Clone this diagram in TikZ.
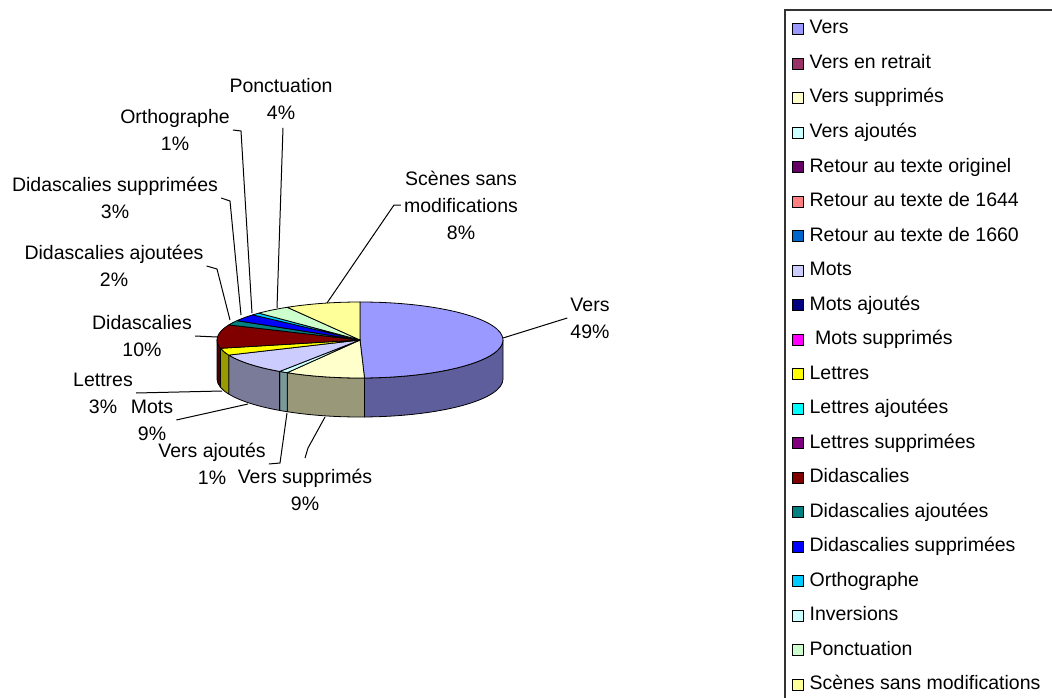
\documentclass[tikz,border=0pt]{standalone}
\usepackage{fontspec}
\setmainfont{Liberation Sans}
\usepackage{tikz}

\definecolor{cVers}{HTML}{9999FF}
\definecolor{cRetrait}{HTML}{993366}
\definecolor{cVsupp}{HTML}{FFFFCC}
\definecolor{cVaj}{HTML}{CCFFFF}
\definecolor{cOrig}{HTML}{660066}
\definecolor{cR1644}{HTML}{FF8080}
\definecolor{cR1660}{HTML}{0066CC}
\definecolor{cMots}{HTML}{CCCCFF}
\definecolor{cMaj}{HTML}{000080}
\definecolor{cMsupp}{HTML}{FF00FF}
\definecolor{cLettres}{HTML}{FFFF00}
\definecolor{cLaj}{HTML}{00FFFF}
\definecolor{cLsupp}{HTML}{800080}
\definecolor{cDid}{HTML}{800000}
\definecolor{cDidAj}{HTML}{008080}
\definecolor{cDidSupp}{HTML}{0000FF}
\definecolor{cOrtho}{HTML}{00CCFF}
\definecolor{cInv}{HTML}{CCFFFF}
\definecolor{cPonct}{HTML}{CCFFCC}
\definecolor{cScenes}{HTML}{FFFF99}
% darker sides of the pie
\definecolor{sVers}{HTML}{5E5E9C}
\definecolor{sVsupp}{HTML}{99997A}
\definecolor{sVaj}{HTML}{7A9999}
\definecolor{sMots}{HTML}{7A7A99}
\definecolor{sLettres}{HTML}{999900}
\definecolor{sDid}{HTML}{4D0000}

\begin{document}
\begin{tikzpicture}[x=1pt, y=1pt,
	slice/.style={draw=black, line width=0.8pt, line join=round},
	lbl/.style={align=center, inner sep=3pt, font=\fontsize{19.5}{27}\selectfont},
	lead/.style={draw=black, line width=1pt},
	key/.style={draw=black, line width=0.8pt, minimum size=11pt, inner sep=0pt},
	keytext/.style={inner sep=6pt, text height=14pt, text depth=4pt, font=\fontsize{19.5}{27}\selectfont}]
		\useasboundingbox (0,0) rectangle (1052,-698);
		\clip (0,0) rectangle (1052,-698);
		\fill[white] (0,0) rectangle (1052,-698);

		% pie
		\coordinate (C) at (360,-340);
		\filldraw[slice, fill=sVers] ([shift={(-88.2:143 and 38)}]C) arc[start angle=-88.2, end angle=0, x radius=143, y radius=38] -- ++(0,-39) arc[start angle=0, end angle=-88.2, x radius=143, y radius=38] -- cycle;
		\filldraw[slice, fill=sVsupp] ([shift={(-120.6:143 and 38)}]C) arc[start angle=-120.6, end angle=-88.2, x radius=143, y radius=38] -- ++(0,-39) arc[start angle=-88.2, end angle=-120.6, x radius=143, y radius=38] -- cycle;
		\filldraw[slice, fill=sVaj] ([shift={(-124.2:143 and 38)}]C) arc[start angle=-124.2, end angle=-120.6, x radius=143, y radius=38] -- ++(0,-39) arc[start angle=-120.6, end angle=-124.2, x radius=143, y radius=38] -- cycle;
		\filldraw[slice, fill=sMots] ([shift={(-156.6:143 and 38)}]C) arc[start angle=-156.6, end angle=-124.2, x radius=143, y radius=38] -- ++(0,-39) arc[start angle=-124.2, end angle=-156.6, x radius=143, y radius=38] -- cycle;
		\filldraw[slice, fill=sLettres] ([shift={(-167.4:143 and 38)}]C) arc[start angle=-167.4, end angle=-156.6, x radius=143, y radius=38] -- ++(0,-39) arc[start angle=-156.6, end angle=-167.4, x radius=143, y radius=38] -- cycle;
		\filldraw[slice, fill=sDid] ([shift={(-180:143 and 38)}]C) arc[start angle=-180, end angle=-167.4, x radius=143, y radius=38] -- ++(0,-39) arc[start angle=-167.4, end angle=-180, x radius=143, y radius=38] -- cycle;

		\filldraw[slice, fill=cVers] (C) -- ++(90:143 and 38) arc[start angle=90, end angle=-88.2, x radius=143, y radius=38] -- cycle;
		\filldraw[slice, fill=cVsupp] (C) -- ++(-88.2:143 and 38) arc[start angle=-88.2, end angle=-120.6, x radius=143, y radius=38] -- cycle;
		\filldraw[slice, fill=cVaj] (C) -- ++(-120.6:143 and 38) arc[start angle=-120.6, end angle=-124.2, x radius=143, y radius=38] -- cycle;
		\filldraw[slice, fill=cMots] (C) -- ++(-124.2:143 and 38) arc[start angle=-124.2, end angle=-156.6, x radius=143, y radius=38] -- cycle;
		\filldraw[slice, fill=cLettres] (C) -- ++(-156.6:143 and 38) arc[start angle=-156.6, end angle=-167.4, x radius=143, y radius=38] -- cycle;
		\filldraw[slice, fill=cDid] (C) -- ++(-167.4:143 and 38) arc[start angle=-167.4, end angle=-203.4, x radius=143, y radius=38] -- cycle;
		\filldraw[slice, fill=cDidAj] (C) -- ++(-203.4:143 and 38) arc[start angle=-203.4, end angle=-210.6, x radius=143, y radius=38] -- cycle;
		\filldraw[slice, fill=cDidSupp] (C) -- ++(-210.6:143 and 38) arc[start angle=-210.6, end angle=-221.4, x radius=143, y radius=38] -- cycle;
		\filldraw[slice, fill=cOrtho] (C) -- ++(-221.4:143 and 38) arc[start angle=-221.4, end angle=-225, x radius=143, y radius=38] -- cycle;
		\filldraw[slice, fill=cPonct] (C) -- ++(-225:143 and 38) arc[start angle=-225, end angle=-239.4, x radius=143, y radius=38] -- cycle;
		\filldraw[slice, fill=cScenes] (C) -- ++(-239.4:143 and 38) arc[start angle=-239.4, end angle=-270, x radius=143, y radius=38] -- cycle;

		% labels
		\node[lbl] at (590,-318) (lVers){Vers\\49\%};
		\node[lbl] at (461,-205) (lScenes){Scènes sans\\modifications\\8\%};
		\node[lbl] at (281,-99)  (lPonct){Ponctuation\\4\%};
		\node[lbl] at (175,-130) (lOrtho){Orthographe\\1\%};
		\node[lbl] at (115,-198) (lDidSupp){Didascalies supprimées\\3\%};
		\node[lbl] at (114,-266) (lDidAj){Didascalies ajoutées\\2\%};
		\node[lbl] at (142,-336) (lDid){Didascalies\\10\%};
		\node[lbl] at (103,-393) (lLettres){Lettres\\3\%};
		\node[lbl] at (152,-420) (lMots){Mots\\9\%};
		\node[lbl] at (212,-464) (lVaj){Vers ajoutés\\1\%};
		\node[lbl] at (305,-490) (lVsupp){Vers supprimés\\9\%};

		\coordinate (pVers) at (503,-338);
		\coordinate (kScenes) at (394,-205);
		\coordinate (pScenes) at (327,-303);
		\coordinate (pPonct) at (277,-308);
		\coordinate (kOrtho) at (241,-131);
		\coordinate (pOrtho) at (252,-313);
		\coordinate (kDidSupp) at (230,-201);
		\coordinate (pDidSupp) at (241,-315);
		\coordinate (kDidAj) at (217,-269);
		\coordinate (pDidAj) at (230,-320);
		\coordinate (pDid) at (217,-337);
		\coordinate (pLettres) at (222,-391);
		\coordinate (pMots) at (248,-404);
		\coordinate (kVaj) at (280,-463);
		\coordinate (pVaj) at (287,-413);
		\coordinate (kVsupp) at (308,-448);
		\coordinate (pVsupp) at (325,-417);

		\draw[lead] (lVers.west) -- (pVers);
		\draw[lead] (lScenes.west) -- (kScenes) -- (pScenes);
		\draw[lead] (lPonct.south) ++(2,-5) -- (pPonct);
		\draw[lead] (lOrtho.east) -- (kOrtho) -- (pOrtho);
		\draw[lead] (lDidSupp.east) -- (kDidSupp) -- (pDidSupp);
		\draw[lead] (lDidAj.east) -- (kDidAj) -- (pDidAj);
		\draw[lead] (lDid.east) -- (pDid);
		\draw[lead] (lLettres.east) -- (pLettres);
		\draw[lead] (lMots.east) -- (pMots);
		\draw[lead] (lVaj.east) -- (kVaj) -- (pVaj);
		\draw[lead] (lVsupp.north) ++(0,8) -- (kVsupp) -- (pVsupp);

		% legend
		\draw[line width=1.5pt, draw=black!80] (785,-10) rectangle (1150,-760);
		\node[key, fill=cVers, label={[keytext]right:Vers}] at (797.5,-29) (kVers){};
		\node[key, fill=cRetrait, label={[keytext]right:Vers en retrait}] at (797.5,-63.5) (kRetrait){};
		\node[key, fill=cVsupp, label={[keytext]right:Vers supprimés}] at (797.5,-98) (kVsupp){};
		\node[key, fill=cVaj, label={[keytext]right:Vers ajoutés}] at (797.5,-132.5) (kVaj){};
		\node[key, fill=cOrig, label={[keytext]right:Retour au texte originel}] at (797.5,-167) (kOrig){};
		\node[key, fill=cR1644, label={[keytext]right:Retour au texte de 1644}] at (797.5,-201.5) (kR1644){};
		\node[key, fill=cR1660, label={[keytext]right:Retour au texte de 1660}] at (797.5,-236) (kR1660){};
		\node[key, fill=cMots, label={[keytext]right:Mots}] at (797.5,-270.5) (kMots){};
		\node[key, fill=cMaj, label={[keytext]right:Mots ajoutés}] at (797.5,-305) (kMaj){};
		\node[key, fill=cMsupp, label={[keytext]right:\ Mots supprimés}] at (797.5,-339.5) (kMsupp){};
		\node[key, fill=cLettres, label={[keytext]right:Lettres}] at (797.5,-374) (kLettres){};
		\node[key, fill=cLaj, label={[keytext]right:Lettres ajoutées}] at (797.5,-408.5) (kLaj){};
		\node[key, fill=cLsupp, label={[keytext]right:Lettres supprimées}] at (797.5,-443) (kLsupp){};
		\node[key, fill=cDid, label={[keytext]right:Didascalies}] at (797.5,-477.5) (kDid){};
		\node[key, fill=cDidAj, label={[keytext]right:Didascalies ajoutées}] at (797.5,-512) (kDidAj){};
		\node[key, fill=cDidSupp, label={[keytext]right:Didascalies supprimées}] at (797.5,-546.5) (kDidSupp){};
		\node[key, fill=cOrtho, label={[keytext]right:Orthographe}] at (797.5,-581) (kOrtho){};
		\node[key, fill=cInv, label={[keytext]right:Inversions}] at (797.5,-615.5) (kInv){};
		\node[key, fill=cPonct, label={[keytext]right:Ponctuation}] at (797.5,-650) (kPonct){};
		\node[key, fill=cScenes, label={[keytext]right:Scènes sans modifications}] at (797.5,-684.5) (kScenes){};

	\end{tikzpicture}
\end{document}
